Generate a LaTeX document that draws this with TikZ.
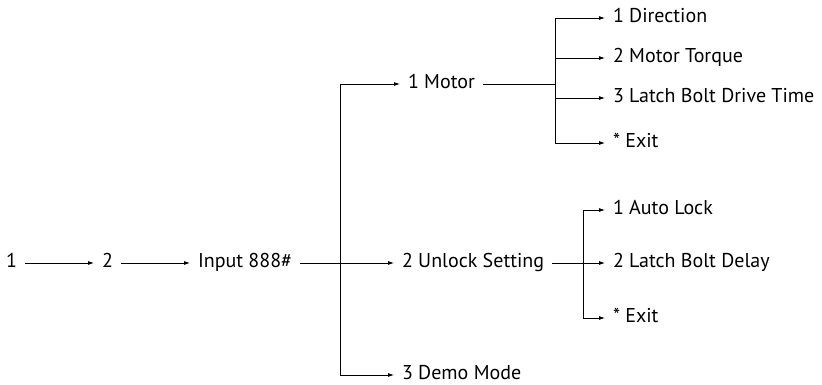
\documentclass[tikz,border=0pt]{standalone}
\usepackage{fontspec}
\setmainfont{PT Sans}
\usepackage{tikz}
\usetikzlibrary{arrows.meta,positioning,calc}

\begin{document}
\begin{tikzpicture}[
            x=1pt,y=1pt,
            font=\fontsize{20}{24}\selectfont,
            item/.style={anchor=west,inner xsep=0pt,outer xsep=8pt,text height=14pt,text depth=5pt},
            arrow/.style={-{Latex[length=6pt,width=4pt]},line width=0.8pt},
            line/.style={line width=0.8pt}
        ]
            \useasboundingbox (0,0) rectangle (822,384);

            % main row
            \node[item] (one) at (-2,121) {1};
            \node[item] (two) at (94,121) {2};
            \node[item] (input) at (190,121) {Input 888\#};
            \node[item] (unlock) at (394,121) {2 Unlock Setting};
            \node[item] (motor) at (400,300) {1 Motor};
            \node[item] (demo) at (394,9) {3 Demo Mode};

            % motor menu
            \node[item] (dir) at (605,366) {1 Direction};
            \node[item] (torque) at (605,326) {2 Motor Torque};
            \node[item] (drive) at (605,286) {3 Latch Bolt Drive Time};
            \node[item] (mexit) at (605,241) {* Exit};

            % unlock menu
            \node[item] (auto) at (605,174) {1 Auto Lock};
            \node[item] (delay) at (605,121) {2 Latch Bolt Delay};
            \node[item] (uexit) at (605,66) {* Exit};

            \coordinate (mainbus) at (340,121);
            \coordinate (motorbus) at (555,300);
            \coordinate (unlockbus) at (583,121);

            \draw[arrow] (one) -- (two);
            \draw[arrow] (two) -- (input);
            \draw[arrow] (input) -- (unlock);
            \draw[arrow] (mainbus) |- (motor);
            \draw[arrow] (mainbus) |- (demo);

            \draw[line] (motor) -- (motorbus);
            \draw[arrow] (motorbus) |- (dir);
            \draw[arrow] (motorbus) |- (torque);
            \draw[arrow] (motorbus) |- (drive);
            \draw[arrow] (motorbus) |- (mexit);

            \draw[arrow] (unlock) -- (delay);
            \draw[arrow] (unlockbus) |- (auto);
            \draw[arrow] (unlockbus) |- (uexit);
        \end{tikzpicture}
\end{document}
